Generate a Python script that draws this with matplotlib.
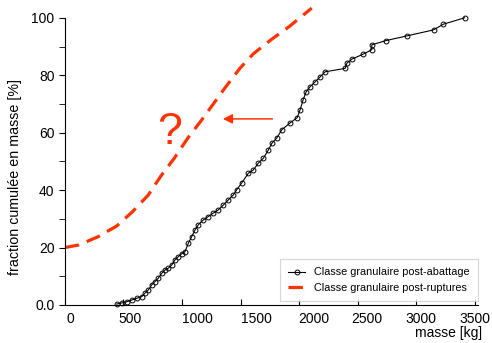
import numpy as np
import matplotlib
matplotlib.use("Agg")
import matplotlib.pyplot as plt
import matplotlib.transforms as mtransforms

plt.rcParams['font.family'] = ['Liberation Sans', 'DejaVu Sans']

# black curve: post-abattage
masse_abat = [442, 485, 527, 570, 613, 656, 684, 712, 741, 769, 797, 826, 855, 883,
              912, 940, 968, 997, 1026, 1054, 1083, 1111, 1139, 1182, 1225, 1268,
              1310, 1353, 1396, 1438, 1467, 1510, 1567, 1609, 1652, 1695, 1738,
              1767, 1809, 1852, 1923, 1983, 2009, 2034, 2060, 2094, 2137, 2179,
              2222, 2393, 2408, 2450, 2550, 2621, 2621, 2744, 2920, 3148, 3233, 3413]
frac_abat = [0.3, 0.7, 1.1, 1.7, 2.3, 2.9, 4.1, 5.2, 7.0, 8.1, 9.3, 11.0, 12.2, 12.8,
             13.9, 15.7, 16.8, 17.8, 18.6, 21.5, 23.8, 26.1, 27.9, 29.6, 30.8, 32.0,
             33.1, 34.8, 36.6, 38.3, 40.1, 42.5, 45.9, 47.0, 49.4, 51.1, 54.0,
             56.3, 58.1, 61.0, 63.4, 65.2, 68.0, 71.4, 74.2, 76.0, 77.7, 79.4,
             81.2, 82.4, 84.2, 85.6, 87.4, 88.9, 90.6, 92.1, 93.7, 95.8, 97.8, 100.0]

# red dashed sketch: post-ruptures
masse_rupt = [0, 120, 285, 442, 578, 712, 821, 934, 1049, 1162, 1262, 1376, 1496,
              1610, 1758, 1917, 2108]
frac_rupt = [20, 20.9, 23.8, 27.5, 32.5, 38.3, 45, 51.1, 58.1, 64.1, 69.7, 76.1, 82.5,
             87.5, 92.3, 97, 103.4]

xticks = [0, 500, 1000, 1500, 2000, 2500, 3000, 3500]
yticks = [0, 20, 40, 60, 80, 100]
ylabels = ["0.0", "20", "40", "60", "80", "100"]

red = "#ff3300"

fig = plt.figure(figsize=(4.92, 3.43), dpi=100)
ax = fig.add_axes([0.132, 0.111, 0.840, 0.837])

ax.plot(masse_abat, frac_abat, color="black", lw=0.8, marker="o", ms=3.5,
        mfc="none", mec="black", mew=0.7, clip_on=False,
        label="Classe granulaire post-abattage")
ax.plot(masse_rupt, frac_rupt, color=red, lw=2.3, linestyle=(0, (4.5, 2.6)),
        clip_on=False, label="Classe granulaire post-ruptures")

ax.annotate("", xy=(1325, 64.8), xytext=(1795, 64.8),
            arrowprops=dict(arrowstyle="-|>", color=red, lw=1.1,
                            mutation_scale=14))
ax.text(897, 60, "?", color=red, fontsize=32, ha="center", va="center")

ax.set_xlim(0, 3530)
ax.set_ylim(0, 100)
ax.set_xticks(xticks)
ax.set_yticks(yticks)
ax.set_yticklabels(ylabels)
ax.set_yticks([10, 30, 50, 70, 90], minor=True)
ax.tick_params(axis="x", direction="in", length=4, labelsize=10, pad=5)
ax.tick_params(axis="y", which="both", direction="out", length=4, labelsize=10)
# labels in the original sit a little right of their ticks (pixels)
shifts = [5, 7, 15, 16, 15, 9, 5, 0]
for lab, s in zip(ax.get_xticklabels(), shifts):
    off = mtransforms.ScaledTranslation(s / 100, 0, fig.dpi_scale_trans)
    lab.set_transform(lab.get_transform() + off)

ax.spines["top"].set_visible(False)
ax.spines["right"].set_visible(False)
ax.set_ylabel("fraction cumulée en masse [%]", fontsize=10.3)
ax.yaxis.set_label_coords(-0.105, 0.446)
fig.text(0.98, 0.029, "masse [kg]", fontsize=10, ha="right", va="center")

leg = ax.legend(loc="lower right", bbox_to_anchor=(1.0, 0.012), fontsize=7.8,
                frameon=True, fancybox=False, borderaxespad=0, handlelength=1.5,
                borderpad=0.8, handletextpad=0.85)
leg.get_frame().set_edgecolor("#cccccc")
leg.get_frame().set_linewidth(0.8)

plt.savefig("out.png", dpi=100)
